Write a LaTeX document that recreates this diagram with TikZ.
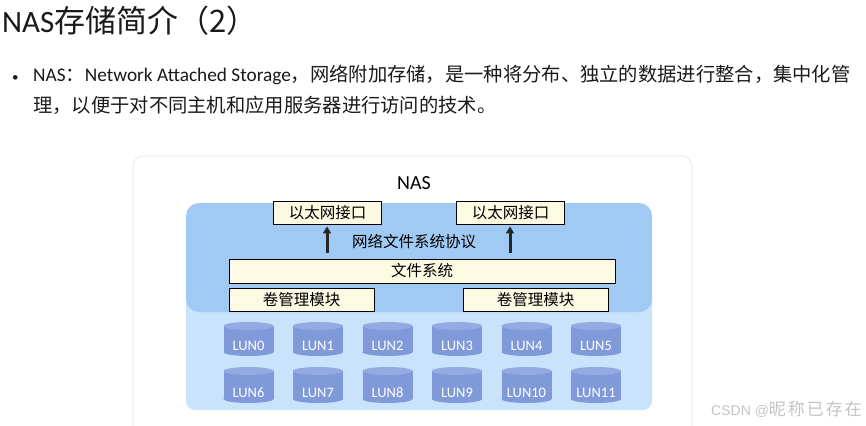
\documentclass[tikz,border=0pt]{standalone}
\usepackage{fontspec}
\setmainfont{Carlito}
\newfontfamily\cjk{Noto Sans CJK SC}
\newfontfamily\wmsans{Liberation Sans}
\usetikzlibrary{arrows.meta}
\definecolor{txt}{HTML}{1A1A1A}
\definecolor{darkblue}{HTML}{A0CAF3}
\definecolor{lightblue}{HTML}{C8E3FB}
\definecolor{cardline}{HTML}{ECECF0}
\definecolor{boxfill}{HTML}{FDFAE4}
\definecolor{lunbody}{HTML}{8099D8}
\definecolor{luntop}{HTML}{95AAE2}
\definecolor{wm}{HTML}{C4C4C4}
\tikzset{
  layerbox/.style={draw=black, line width=0.9pt, fill=boxfill, inner sep=0pt, font=\cjk\fontsize{15.5}{18}\selectfont, text=black},
  luntext/.style={text=white, font=\fontsize{14.5}{16}\selectfont, inner sep=0pt},
  uparrow/.style={-{Triangle[length=7pt,width=8pt]}, line width=3pt, draw=black!85},
}
\newcommand\mylun[4]{% center x, top y, bottom y, label
  \fill[lunbody] (#1,#3-4) ellipse [x radius=25pt, y radius=4pt];
  \fill[lunbody] (#1-25,#2+4) rectangle (#1+25,#3-4);
  \fill[luntop] (#1,#2+4) ellipse [x radius=25pt, y radius=4pt];
  \node[luntext] (lun#4) at (#1,#3-10) {LUN#4};
}
\begin{document}
\begin{tikzpicture}[x=1pt,y=-1pt]
\useasboundingbox (0,0) rectangle (866,425);
\clip (0,0) rectangle (866,425);
\fill[white] (0,0) rectangle (866,425);
% title
\node[anchor=base west, inner sep=0pt, text=txt, font=\fontsize{31}{36}\selectfont] (title) at (2,33) {NAS{\cjk 存储简介（2）}};
% bullet text
\node[anchor=base west, inner sep=0pt, text=txt, font=\fontsize{13}{15}\selectfont] (bullet) at (12,82) {•};
\node[anchor=base west, inner sep=0pt, text=txt, font=\fontsize{19.3}{22}\selectfont] (line1) at (33,82) {NAS{\cjk ：}Network Attached Storage{\cjk ，网络附加存储，是一种将分布、独立的数据进行整合，集中化管}};
\node[anchor=base west, inner sep=0pt, text=txt, font=\cjk\fontsize{19.3}{22}\selectfont] (line2) at (33,113) {理，以便于对不同主机和应用服务器进行访问的技术。};
% card
\draw[cardline, fill=white, line width=1pt, rounded corners=10pt] (133,156) rectangle (692,450);
\node[inner sep=0pt, text=black, font=\fontsize{20}{24}\selectfont] (nas) at (414,183) {NAS};
% blue regions
\fill[lightblue, rounded corners=9pt] (186,290) rectangle (652,410);
\fill[darkblue, rounded corners=13pt] (186,203) rectangle (652,312);
% layer boxes
\node[layerbox, minimum width=108pt, minimum height=23pt] (eth1) at (327.5,212.5) {以太网接口};
\node[layerbox, minimum width=108pt, minimum height=23pt] (eth2) at (510.5,212.5) {以太网接口};
\node[inner sep=0pt, text=black, font=\cjk\fontsize{15.5}{18}\selectfont] (nfs) at (414,242) {网络文件系统协议};
\node[layerbox, minimum width=386pt, minimum height=24pt] (fs) at (422,271) {文件系统};
\node[layerbox, minimum width=145pt, minimum height=23pt] (vol1) at (301.5,300) {卷管理模块};
\node[layerbox, minimum width=145pt, minimum height=23pt] (vol2) at (535.5,300) {卷管理模块};
% arrows
\coordinate (a1) at (327,253);
\coordinate (a2) at (510,253);
\draw[uparrow, shorten >=2pt] (a1) -- (a1 |- eth1.south);
\draw[uparrow, shorten >=2pt] (a2) -- (a2 |- eth2.south);
% LUNs
\foreach \i/\cx in {0/248.5,1/318,2/387.5,3/457,4/526.5,5/596}{
  \mylun{\cx}{322}{356}{\i}
}
\foreach \i/\cx in {6/248.5,7/318,8/387.5,9/457,10/526.5,11/596}{
  \mylun{\cx}{367}{403}{\i}
}
% watermark
\node[anchor=base west, inner sep=0pt, text=wm, font=\wmsans\fontsize{14}{18}\selectfont] (wmark) at (711,415) {CSDN @{\cjk\fontsize{17}{18}\selectfont 昵\hspace{2pt}称\hspace{2pt}已\hspace{2pt}存\hspace{2pt}在}};
\end{tikzpicture}
\end{document}
